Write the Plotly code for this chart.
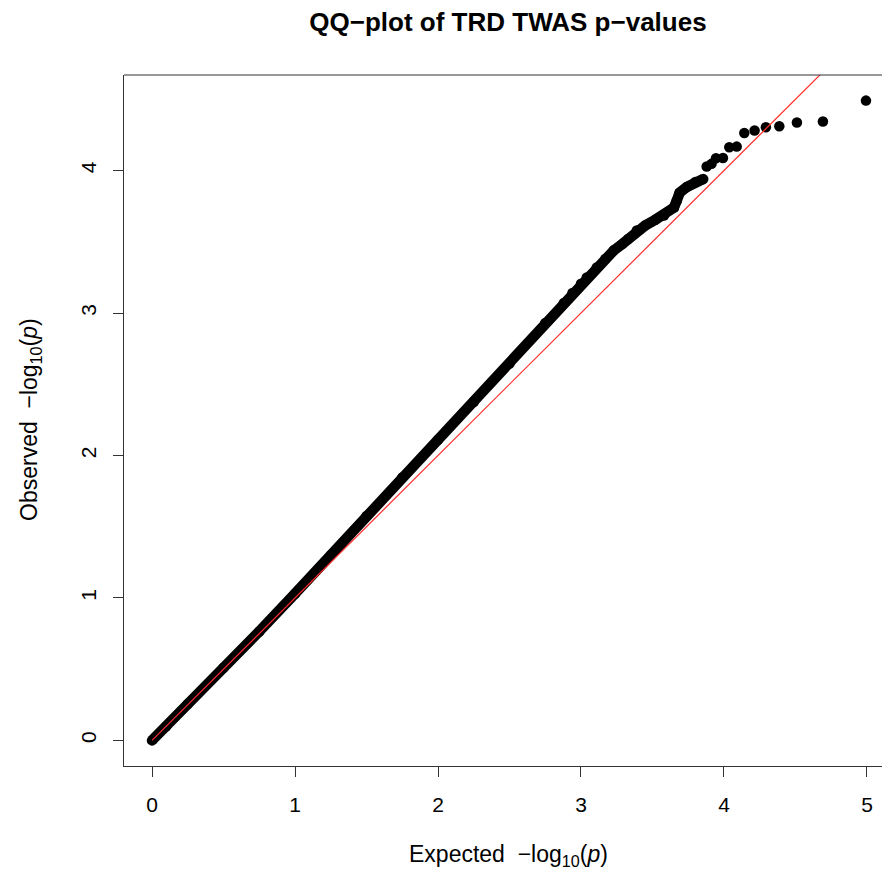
import plotly.graph_objects as go

# Bulk of the QQ band (expected, observed)
expected_bulk = [0.00, 0.10, 0.25, 0.50, 0.75, 1.00, 1.25, 1.50, 1.75, 2.00, 2.25, 2.50,
                 2.75, 2.88, 2.94, 3.00, 3.04, 3.11, 3.17, 3.23, 3.29, 3.33, 3.39, 3.45,
                 3.52, 3.58, 3.65, 3.67, 3.69, 3.74, 3.80, 3.855]
observed_bulk = [0.00, 0.10, 0.255, 0.51, 0.765, 1.03, 1.30, 1.575, 1.845, 2.11, 2.375, 2.645,
                 2.93, 3.07, 3.14, 3.205, 3.25, 3.32, 3.38, 3.44, 3.485, 3.52, 3.58, 3.615,
                 3.655, 3.685, 3.74, 3.79, 3.845, 3.885, 3.92, 3.94]

# Isolated top points
expected_tail = [3.879, 3.913, 3.944, 3.993, 4.037, 4.089, 4.142, 4.214, 4.293, 4.387, 4.510, 4.692, 4.993]
observed_tail = [4.028, 4.047, 4.086, 4.088, 4.163, 4.168, 4.264, 4.281, 4.304, 4.311, 4.337, 4.344, 4.491]

x_ticks = [0, 1, 2, 3, 4, 5]
y_ticks = [0, 1, 2, 3, 4]

OFF = 8  # page body margin
W, H = 890, 877
L, T, R = 124 - OFF, 75 - OFF, 0
B = H - (766 - OFF)
x_range = [-0.196, 5.217]
y_range = [-0.1796, 4.6706]
FONT = "Liberation Sans, Arial, Helvetica, sans-serif"

fig = go.Figure()
fig.add_trace(go.Scatter(x=expected_bulk, y=observed_bulk, mode="lines+markers",
                         line=dict(color="black", width=10.5),
                         marker=dict(color="black", size=10.5), hoverinfo="skip", showlegend=False))
fig.add_trace(go.Scatter(x=expected_tail, y=observed_tail, mode="markers",
                         marker=dict(color="black", size=10.5), showlegend=False))
# y = x reference line from the origin to the edge of the plotting region
fig.add_trace(go.Scatter(x=[0, x_range[1]], y=[0, x_range[1]], mode="lines",
                         line=dict(color="#ff2a2a", width=1.2), hoverinfo="skip", showlegend=False))

axis_common = dict(showgrid=False, zeroline=False, showline=True, linecolor="#333333",
                   linewidth=1.2, ticks="outside", ticklen=10, tickcolor="#333333", tickwidth=1,
                   tickfont=dict(family=FONT, size=21, color="black"))

fig.update_xaxes(range=x_range, tickvals=x_ticks, ticktext=[str(v) for v in x_ticks],
                 ticklabelstandoff=10, **axis_common)
fig.update_yaxes(range=y_range, tickvals=y_ticks, ticktext=[str(v) for v in y_ticks],
                 tickangle=-90, ticklabelstandoff=9, **axis_common)

pw = W - L - R
ph = H - T - B
fig.update_layout(
    width=W, height=H,
    margin=dict(l=L, r=R, t=T, b=B, pad=0),
    plot_bgcolor="white", paper_bgcolor="white",
    title=dict(text="<b>QQ\u2212plot of TRD TWAS p\u2212values</b>",
               font=dict(family=FONT, size=26, color="black"),
               x=(508 - OFF) / W, xref="container", xanchor="center",
               y=1 - (22 - OFF) / H, yref="container", yanchor="middle"),
    shapes=[dict(type="line", xref="paper", yref="paper", x0=0, x1=1, y0=1, y1=1,
                 line=dict(color="#333333", width=1.2))],
    annotations=[
        dict(text="Expected  \u2212log<sub>10</sub>(<i>p</i>)", xref="paper", yref="paper",
             x=(508 - OFF - L) / pw, y=-((855 - OFF) - (T + ph)) / ph,
             xanchor="center", yanchor="middle",
             showarrow=False, font=dict(family=FONT, size=23, color="black")),
        dict(text="Observed  \u2212log<sub>10</sub>(<i>p</i>)", xref="paper", yref="paper",
             x=-(L - (30 - OFF)) / pw, y=1 - ((420 - OFF) - T) / ph,
             xanchor="center", yanchor="middle",
             textangle=-90, showarrow=False, font=dict(family=FONT, size=23, color="black")),
    ],
)

fig.write_html("out.html")
